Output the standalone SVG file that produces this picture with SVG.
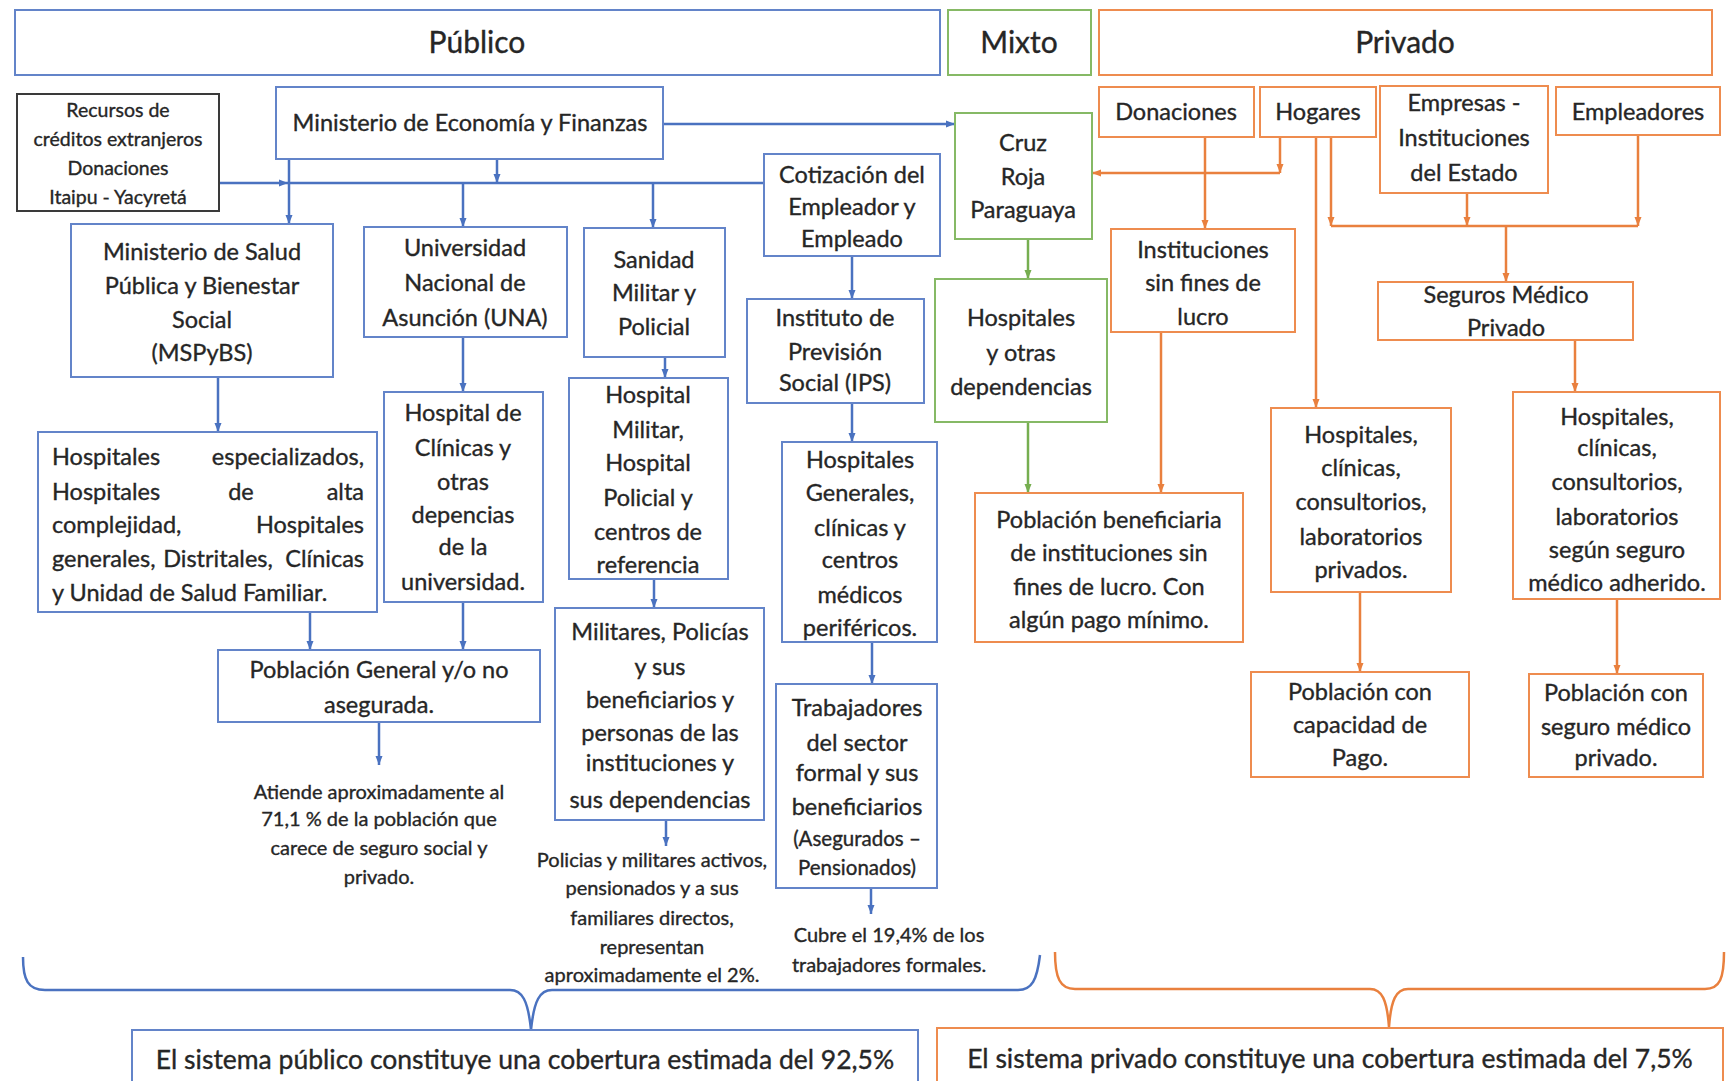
<svg xmlns="http://www.w3.org/2000/svg" width="1727" height="1081" viewBox="0 0 1727 1081">
<style>
.bx{fill:#fff;stroke:#6384C9;stroke-width:2}
.og{stroke:#EE8C4F}
.gr{stroke:#86B965}
.dk{stroke:#3a3a3a}
text{font-family:Lato,"Liberation Sans",sans-serif;font-size:23.5px;fill:#262626;stroke:#262626;stroke-width:0.35;text-anchor:middle}
.s{font-size:19.5px}
.a{font-size:20.5px}
.m{font-size:20px}
.h{font-size:30px}
.b{font-size:26.5px}
.l{text-anchor:start}
.r{text-anchor:end}
.cb{stroke:#4A72C0;stroke-width:2.5;fill:none}
.co{stroke:#E9803E;stroke-width:2.5;fill:none}
.cg{stroke:#76AE50;stroke-width:2.5;fill:none}
.ab{marker-end:url(#mb)}
.ao{marker-end:url(#mo)}
.ag{marker-end:url(#mg)}
</style>
<defs>
<marker id="mb" markerUnits="userSpaceOnUse" markerWidth="10" markerHeight="10" refX="9" refY="5" orient="auto"><path d="M0,1.5 L9,5 L0,8.5 z" fill="#4A72C0"/></marker>
<marker id="mo" markerUnits="userSpaceOnUse" markerWidth="10" markerHeight="10" refX="9" refY="5" orient="auto"><path d="M0,1.5 L9,5 L0,8.5 z" fill="#E9803E"/></marker>
<marker id="mg" markerUnits="userSpaceOnUse" markerWidth="10" markerHeight="10" refX="9" refY="5" orient="auto"><path d="M0,1.5 L9,5 L0,8.5 z" fill="#76AE50"/></marker>
</defs>
<rect width="1727" height="1081" fill="#fff"/>

<g id="connectors">
<path class="cb ab" d="M219,183 H288"/>
<path class="cb" d="M289,183 H764"/>
<path class="cb ab" d="M289,159 V224"/>
<path class="cb ab" d="M497,159 V183"/>
<path class="cb ab" d="M463,183 V227"/>
<path class="cb ab" d="M653,183 V228"/>
<path class="cb ab" d="M463,337 V392"/>
<path class="cb ab" d="M218,377 V432"/>
<path class="cb ab" d="M310,612 V650"/>
<path class="cb ab" d="M463,602 V650"/>
<path class="cb ab" d="M379,722 V765"/>
<path class="cb ab" d="M665,357 V378"/>
<path class="cb ab" d="M654,579 V608"/>
<path class="cb ab" d="M666,820 V846"/>
<path class="cb ab" d="M852,256 V299"/>
<path class="cb ab" d="M852,403 V442"/>
<path class="cb ab" d="M872,642 V684"/>
<path class="cb ab" d="M871,888 V914"/>
<path class="cb ab" d="M663,124 H955"/>
<path class="cg ag" d="M1028,239 V279"/>
<path class="cg ag" d="M1028,422 V493"/>
<path class="co ao" d="M1280,137 V173"/>
<path class="co ao" d="M1280,173 H1092"/>
<path class="co ao" d="M1205,137 V229"/>
<path class="co ao" d="M1161,332 V493"/>
<path class="co ao" d="M1316,137 V408"/>
<path class="co ao" d="M1331,137 V226"/>
<path class="co ao" d="M1467,193 V226"/>
<path class="co ao" d="M1638,135 V226"/>
<path class="co" d="M1331,226 H1638"/>
<path class="co ao" d="M1506,226 V282"/>
<path class="co ao" d="M1575,340 V392"/>
<path class="co ao" d="M1360,592 V672"/>
<path class="co ao" d="M1617,599 V674"/>
<path class="cb" d="M23,957 C23,980 28,990 45,990 H510 C522,990 528,1000 531,1030 C534,1000 540,990 552,990 H1018 C1032,990 1037,980 1040,955"/>
<path class="co" d="M1055,952 C1055,978 1060,989 1075,989 H1370 C1382,989 1387,1000 1389,1027 C1391,1000 1396,989 1408,989 H1705 C1720,989 1724,978 1724,952"/>
</g>

<g id="publico"><rect class="bx" x="15" y="10" width="925" height="65"/><text class="h" x="477" y="53">Público</text></g>
<g id="mixto"><rect class="bx gr" x="948" y="10" width="143" height="65"/><text class="h" x="1019" y="53">Mixto</text></g>
<g id="privado"><rect class="bx og" x="1099" y="10" width="613" height="65"/><text class="h" x="1405" y="53">Privado</text></g>

<g id="recursos"><rect class="bx dk" x="17" y="94" width="202" height="117"/>
<text class="s" x="118" y="117">Recursos de</text><text class="s" x="118" y="146">créditos extranjeros</text><text class="s" x="118" y="175">Donaciones</text><text class="s" x="118" y="204">Itaipu - Yacyretá</text></g>

<g id="mef"><rect class="bx" x="276" y="87" width="387" height="72"/><text x="470" y="131">Ministerio de Economía y Finanzas</text></g>

<g id="mspybs"><rect class="bx" x="71" y="224" width="262" height="153"/>
<text x="202" y="260">Ministerio de Salud</text><text x="202" y="294">Pública y Bienestar</text><text x="202" y="328">Social</text><text x="202" y="361">(MSPyBS)</text></g>

<g id="una"><rect class="bx" x="364" y="227" width="203" height="110"/>
<text x="465" y="256">Universidad</text><text x="465" y="291">Nacional de</text><text x="465" y="326">Asunción (UNA)</text></g>

<g id="sanidad"><rect class="bx" x="584" y="228" width="141" height="129"/>
<text x="654" y="268">Sanidad</text><text x="654" y="301">Militar y</text><text x="654" y="335">Policial</text></g>

<g id="cotizacion"><rect class="bx" x="764" y="154" width="176" height="102"/>
<text x="852" y="183">Cotización del</text><text x="852" y="215">Empleador y</text><text x="852" y="247">Empleado</text></g>

<g id="ips"><rect class="bx" x="747" y="299" width="177" height="104"/>
<text x="835" y="326">Instituto de</text><text x="835" y="360">Previsión</text><text x="835" y="391">Social (IPS)</text></g>

<g id="cruzroja"><rect class="bx gr" x="955" y="113" width="137" height="126"/>
<text x="1023" y="151">Cruz</text><text x="1023" y="185">Roja</text><text x="1023" y="218">Paraguaya</text></g>

<g id="hosp-mixto"><rect class="bx gr" x="935" y="279" width="172" height="143"/>
<text x="1021" y="326">Hospitales</text><text x="1021" y="361">y otras</text><text x="1021" y="395">dependencias</text></g>

<g id="donaciones"><rect class="bx og" x="1099" y="87" width="155" height="50"/><text x="1176" y="120">Donaciones</text></g>
<g id="hogares"><rect class="bx og" x="1260" y="87" width="116" height="50"/><text x="1318" y="120">Hogares</text></g>
<g id="empresas"><rect class="bx og" x="1380" y="86" width="168" height="107"/>
<text x="1464" y="111">Empresas -</text><text x="1464" y="146">Instituciones</text><text x="1464" y="181">del Estado</text></g>
<g id="empleadores"><rect class="bx og" x="1556" y="87" width="164" height="48"/><text x="1638" y="120">Empleadores</text></g>

<g id="instituciones"><rect class="bx og" x="1111" y="229" width="184" height="103"/>
<text x="1203" y="258">Instituciones</text><text x="1203" y="291">sin fines de</text><text x="1203" y="325">lucro</text></g>

<g id="seguros"><rect class="bx og" x="1378" y="282" width="255" height="58"/>
<text x="1506" y="303">Seguros Médico</text><text x="1506" y="336">Privado</text></g>

<g id="hosp-esp"><rect class="bx" x="38" y="432" width="339" height="180"/>
<text class="l" x="52" y="465">Hospitales</text><text class="r" x="364" y="465">especializados,</text>
<text class="l" x="52" y="500">Hospitales</text><text x="241" y="500">de</text><text class="r" x="364" y="500">alta</text>
<text class="l" x="52" y="533">complejidad,</text><text class="r" x="364" y="533">Hospitales</text>
<text class="l" x="52" y="567">generales,</text><text x="218" y="567">Distritales,</text><text class="r" x="364" y="567">Clínicas</text>
<text class="l" x="52" y="601">y Unidad de Salud Familiar.</text></g>

<g id="hosp-clinicas"><rect class="bx" x="384" y="392" width="159" height="210"/>
<text x="463" y="421">Hospital de</text><text x="463" y="456">Clínicas y</text><text x="463" y="490">otras</text><text x="463" y="523">depencias</text><text x="463" y="555">de la</text><text x="463" y="590">universidad.</text></g>

<g id="poblacion-general"><rect class="bx" x="218" y="650" width="322" height="72"/>
<text x="379" y="678">Población General y/o no</text><text x="379" y="713">asegurada.</text></g>

<g id="hosp-militar"><rect class="bx" x="569" y="378" width="159" height="201"/>
<text x="648" y="403">Hospital</text><text x="648" y="438">Militar,</text><text x="648" y="471">Hospital</text><text x="648" y="506">Policial y</text><text x="648" y="540">centros de</text><text x="648" y="573">referencia</text></g>

<g id="militares"><rect class="bx" x="555" y="608" width="209" height="212"/>
<text x="660" y="640">Militares, Policías</text><text x="660" y="675">y sus</text><text x="660" y="708">beneficiarios y</text><text x="660" y="741">personas de las</text><text x="660" y="771">instituciones y</text><text x="660" y="808">sus dependencias</text></g>

<g id="hosp-generales"><rect class="bx" x="782" y="442" width="155" height="200"/>
<text x="860" y="468">Hospitales</text><text x="860" y="501">Generales,</text><text x="860" y="536">clínicas y</text><text x="860" y="568">centros</text><text x="860" y="603">médicos</text><text x="860" y="636">periféricos.</text></g>

<g id="trabajadores"><rect class="bx" x="776" y="684" width="161" height="204"/>
<text x="857" y="716">Trabajadores</text><text x="857" y="751">del sector</text><text x="857" y="781">formal y sus</text><text x="857" y="815">beneficiarios</text><text class="a" x="857" y="846">(Asegurados –</text><text class="a" x="857" y="875">Pensionados)</text></g>

<g id="poblacion-beneficiaria"><rect class="bx og" x="975" y="493" width="268" height="149"/>
<text x="1109" y="528">Población beneficiaria</text><text x="1109" y="561">de instituciones sin</text><text x="1109" y="595">fines de lucro. Con</text><text x="1109" y="628">algún pago mínimo.</text></g>

<g id="hosp-privados"><rect class="bx og" x="1271" y="408" width="180" height="184"/>
<text x="1361" y="443">Hospitales,</text><text x="1361" y="476">clínicas,</text><text x="1361" y="510">consultorios,</text><text x="1361" y="545">laboratorios</text><text x="1361" y="578">privados.</text></g>

<g id="hosp-seguro"><rect class="bx og" x="1513" y="392" width="207" height="207"/>
<text x="1617" y="425">Hospitales,</text><text x="1617" y="456">clínicas,</text><text x="1617" y="490">consultorios,</text><text x="1617" y="525">laboratorios</text><text x="1617" y="558">según seguro</text><text x="1617" y="591">médico adherido.</text></g>

<g id="poblacion-capacidad"><rect class="bx og" x="1251" y="672" width="218" height="105"/>
<text x="1360" y="700">Población con</text><text x="1360" y="733">capacidad de</text><text x="1360" y="766">Pago.</text></g>

<g id="poblacion-seguro"><rect class="bx og" x="1529" y="674" width="174" height="103"/>
<text x="1616" y="701">Población con</text><text x="1616" y="735">seguro médico</text><text x="1616" y="766">privado.</text></g>

<g id="nota-publica">
<text class="m" x="379" y="799">Atiende aproximadamente al</text><text class="m" x="379" y="826">71,1 % de la población que</text><text class="m" x="379" y="855">carece de seguro social y</text><text class="m" x="379" y="884">privado.</text></g>

<g id="nota-militar">
<text class="m" x="652" y="867">Policias y militares activos,</text><text class="m" x="652" y="895">pensionados y a sus</text><text class="m" x="652" y="925">familiares directos,</text><text class="m" x="652" y="954">representan</text><text class="m" x="652" y="982">aproximadamente el  2%.</text></g>

<g id="nota-ips">
<text class="m" x="889" y="942">Cubre el 19,4% de los</text><text class="m" x="889" y="972">trabajadores formales.</text></g>

<g id="total-publico"><rect class="bx" x="132" y="1030" width="786" height="62"/>
<text class="b" x="525" y="1069">El sistema público constituye una cobertura estimada del 92,5%</text></g>

<g id="total-privado"><rect class="bx og" x="937" y="1028" width="786" height="64"/>
<text class="b" x="1330" y="1068">El sistema privado constituye una cobertura estimada del 7,5%</text></g>
</svg>
